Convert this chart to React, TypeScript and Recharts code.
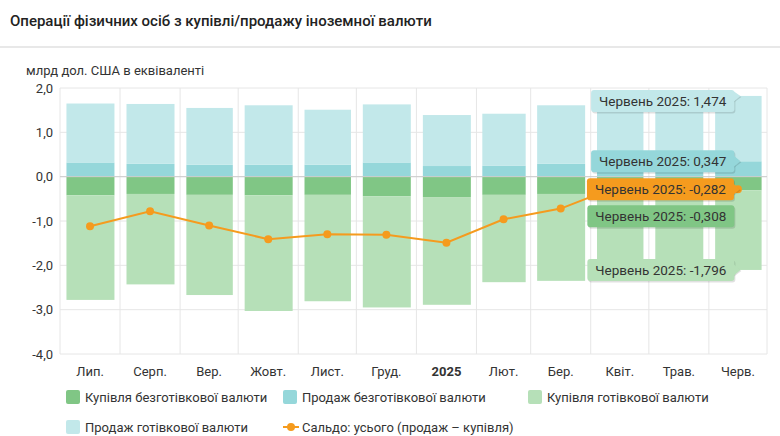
import React from 'react';
import { ComposedChart, Bar, Line, XAxis, YAxis, CartesianGrid, ReferenceLine, LabelList } from 'recharts';

// ---- data ----
const monthKeys = ['2024-07', '2024-08', '2024-09', '2024-10', '2024-11', '2024-12', '2025-01', '2025-02', '2025-03', '2025-04', '2025-05', '2025-06'];
const monthLabels = ['Лип.', 'Серп.', 'Вер.', 'Жовт.', 'Лист.', 'Груд.', '2025', 'Лют.', 'Бер.', 'Квіт.', 'Трав.', 'Черв.'];
const monthFullNames = ['Липень 2024', 'Серпень 2024', 'Вересень 2024', 'Жовтень 2024', 'Листопад 2024', 'Грудень 2024', 'Січень 2025', 'Лютий 2025', 'Березень 2025', 'Квітень 2025', 'Травень 2025', 'Червень 2025'];

const buyNoncash = [-0.42, -0.39, -0.41, -0.42, -0.41, -0.44, -0.46, -0.41, -0.39, -0.35, -0.33, -0.308];
const saleNoncash = [0.32, 0.29, 0.27, 0.27, 0.27, 0.32, 0.24, 0.25, 0.29, 0.3, 0.32, 0.347];
const buyCash = [-2.36, -2.04, -2.26, -2.61, -2.4, -2.51, -2.43, -1.97, -1.96, -1.55, -1.82, -1.796];
const saleCash = [1.33, 1.35, 1.28, 1.34, 1.24, 1.31, 1.15, 1.17, 1.32, 1.4, 1.45, 1.474];
const saldo = [-1.12, -0.78, -1.1, -1.41, -1.3, -1.31, -1.49, -0.96, -0.72, -0.2, -0.38, -0.282];

const yTicks = [-4, -3, -2, -1, 0, 1, 2];

const seriesNames = {
  buyNoncash: 'Купівля безготівкової валюти',
  saleNoncash: 'Продаж безготівкової валюти',
  buyCash: 'Купівля готівкової валюти',
  saleCash: 'Продаж готівкової валюти',
  saldo: 'Сальдо: усього (продаж – купівля)',
};

const colors = {
  buyNoncash: '#80c685',
  saleNoncash: '#95d7da',
  buyCash: '#b6e0b8',
  saleCash: '#c2e8ea',
  saldo: '#f59b1e',
};

// ---- derived (time axis in days from first month start) ----
const DAY = 86400000;
const startDate = Date.UTC(2024, 6, 1);
const monthStartDays: number[] = [];
const monthDays: number[] = [];
monthKeys.forEach((k) => {
  const [y, m] = k.split('-').map(Number);
  monthStartDays.push((Date.UTC(y, m - 1, 1) - startDate) / DAY);
  monthDays.push(new Date(Date.UTC(y, m, 0)).getUTCDate());
});
const endDay = monthStartDays[monthStartDays.length - 1] + monthDays[monthDays.length - 1];
const boundaryDays = [...monthStartDays, endDay];
const midDays = monthStartDays.map((d, i) => d + monthDays[i] / 2);

const data = monthKeys.map((k, i) => ({
  t: midDays[i],
  label: monthLabels[i],
  buyNoncash: buyNoncash[i],
  saleNoncash: saleNoncash[i],
  buyCash: buyCash[i],
  saleCash: saleCash[i],
  saldo: saldo[i],
}));
const labelByT: Record<string, string> = {};
data.forEach((d) => (labelByT[String(d.t)] = d.label));

const FONT = 'Roboto, "Noto Sans", Arial, sans-serif';
const TIP_INDEX = 11;

let measureCtx: CanvasRenderingContext2D | null = null;
function measure(text: string, font: string) {
  if (!measureCtx) measureCtx = document.createElement('canvas').getContext('2d');
  if (!measureCtx) return text.length * 7;
  measureCtx.font = font;
  return measureCtx.measureText(text).width;
}

const fmt3 = (v: number) => v.toFixed(3).replace('.', ',');

function MonthBar(p: any) {
  const { x, y, width, height, fill, index } = p;
  if (x == null || y == null) return null;
  const w = (width * monthDays[index]) / 31;
  const cx = x + width / 2;
  const top = Math.min(y, y + height);
  const h = Math.abs(height);
  return <rect x={cx - w / 2} y={top} width={w} height={h} fill={fill} />;
}

function makeTip(values: number[], color: string, kind: 'bar' | 'point', shift: number) {
  return (props: any) => {
    const { index } = props;
    if (index !== TIP_INDEX) return null;
    const vb = props.viewBox || props;
    const x = Number(vb.x ?? props.x);
    const y = Number(vb.y ?? props.y);
    const w = Number(vb.width ?? 0) || 0;
    const h = Number(vb.height ?? 0) || 0;
    const cx = kind === 'bar' ? x + w / 2 : x;
    const v = values[index];
    let anchorY = y;
    if (kind === 'bar') anchorY = v >= 0 ? Math.min(y, y + h) : Math.max(y, y + h);
    const text = `${monthFullNames[index]}: ${fmt3(v)}`;
    const fontSize = 13.5;
    const tw = measure(text, `${fontSize}px ${FONT}`);
    const boxH = 22;
    const boxRight = cx - 4;
    const boxW = tw + 16;
    const boxLeft = boxRight - boxW;
    const boxTop = anchorY - boxH / 2 + shift;
    const tipX = cx + 2;
    const showPointer = anchorY > boxTop + 4 && anchorY < boxTop + boxH - 4;
    const py1 = Math.max(boxTop + 1, anchorY - 6);
    const py2 = Math.min(boxTop + boxH - 1, anchorY + 6);
    return (
      <g>
        <rect x={boxLeft + 1} y={boxTop + 1.5} width={boxW} height={boxH} rx={3} fill="rgba(0,0,0,0.12)" />
        {showPointer && <polygon points={`${boxRight - 1},${py1 + 1} ${tipX + 1},${anchorY + 1} ${boxRight - 1},${py2 + 1}`} fill="rgba(0,0,0,0.12)" />}
        <rect x={boxLeft} y={boxTop} width={boxW} height={boxH} rx={3} fill={color} />
        {showPointer && <polygon points={`${boxRight - 1},${py1} ${tipX},${anchorY} ${boxRight - 1},${py2}`} fill={color} />}
        <text x={boxLeft + 8} y={boxTop + boxH / 2} dominantBaseline="central" fontSize={fontSize} fontFamily={FONT} fill="#333">
          {text}
        </text>
      </g>
    );
  };
}

function XTick(props: any) {
  const { x, y, payload } = props;
  const label = labelByT[String(payload.value)] ?? '';
  const bold = label === '2025';
  return (
    <text x={x} y={y + 4} textAnchor="middle" dominantBaseline="hanging" fontSize={13} fontFamily={FONT} fill="#333" fontWeight={bold ? 700 : 400}>
      {label}
    </text>
  );
}

const legendItems = [
  { key: 'buyNoncash', type: 'square', left: 66, top: 388 },
  { key: 'saleNoncash', type: 'square', left: 283, top: 388 },
  { key: 'buyCash', type: 'square', left: 528, top: 388 },
  { key: 'saleCash', type: 'square', left: 66, top: 418 },
  { key: 'saldo', type: 'line', left: 283, top: 418 },
];

export default function App() {
  return (
    <div style={{ position: 'absolute', left: 0, top: 0, width: 780, height: 436, background: '#fff', fontFamily: FONT, overflow: 'hidden' }}>
      <div style={{ position: 'absolute', left: 10, top: 12, fontSize: 15, fontWeight: 500, color: '#222', whiteSpace: 'nowrap' }}>
        Операції фізичних осіб з купівлі/продажу іноземної валюти
      </div>
      <div style={{ position: 'absolute', left: 0, top: 46, width: 780, height: 2, background: '#e8e8e8' }} />
      <div style={{ position: 'absolute', left: 26, top: 63, fontSize: 13, color: '#333', whiteSpace: 'nowrap' }}>
        млрд дол. США в еквіваленті
      </div>
      <div style={{ position: 'absolute', left: 0, top: 0 }}>
        <ComposedChart width={780} height={436} data={data} margin={{ top: 88, right: 13, bottom: 52, left: 0 }} stackOffset="sign" barSize={48}>
          <CartesianGrid
            stroke="#e6e6e6"
            verticalCoordinatesGenerator={(args: any) => {
              const xs = args?.xAxis?.scale;
              if (xs && typeof xs === 'function') return boundaryDays.map((d) => xs(d));
              const off = args.offset;
              return boundaryDays.map((d) => off.left + (d / endDay) * off.width);
            }}
          />
          <XAxis
            dataKey="t"
            type="number"
            domain={[0, endDay]}
            ticks={midDays}
            interval={0}
            axisLine={false}
            tickLine={false}
            tick={<XTick />}
            height={30}
          />
          <YAxis
            domain={[-4, 2]}
            ticks={yTicks}
            width={60}
            axisLine={false}
            tickLine={false}
            tickSize={0}
            tickMargin={7}
            tick={{ fontSize: 13, fill: '#333', fontFamily: FONT }}
            tickFormatter={(v: number) => v.toFixed(1).replace('.', ',')}
          />
          <ReferenceLine y={0} stroke="#cccccc" />
          <Bar dataKey="buyNoncash" stackId="a" fill={colors.buyNoncash} isAnimationActive={false} shape={<MonthBar />}>
            <LabelList dataKey="buyNoncash" content={makeTip(buyNoncash, colors.buyNoncash, 'bar', 26)} />
          </Bar>
          <Bar dataKey="saleNoncash" stackId="a" fill={colors.saleNoncash} isAnimationActive={false} shape={<MonthBar />}>
            <LabelList dataKey="saleNoncash" content={makeTip(saleNoncash, colors.saleNoncash, 'bar', 0)} />
          </Bar>
          <Bar dataKey="buyCash" stackId="a" fill={colors.buyCash} isAnimationActive={false} shape={<MonthBar />}>
            <LabelList dataKey="buyCash" content={makeTip(buyCash, colors.buyCash, 'bar', 0)} />
          </Bar>
          <Bar dataKey="saleCash" stackId="a" fill={colors.saleCash} isAnimationActive={false} shape={<MonthBar />}>
            <LabelList dataKey="saleCash" content={makeTip(saleCash, colors.saleCash, 'bar', 5)} />
          </Bar>
          <Line
            dataKey="saldo"
            stroke={colors.saldo}
            strokeWidth={2}
            dot={{ r: 4, fill: colors.saldo, stroke: 'none' }}
            activeDot={false}
            isAnimationActive={false}
          >
            <LabelList dataKey="saldo" content={makeTip(saldo, colors.saldo, 'point', 0)} />
          </Line>
        </ComposedChart>
      </div>
      {legendItems.map((it) => (
        <div key={it.key} style={{ position: 'absolute', left: it.left, top: it.top, height: 18, display: 'flex', alignItems: 'center', fontSize: 13, color: '#333', whiteSpace: 'nowrap' }}>
          {it.type === 'square' ? (
            <span style={{ display: 'inline-block', width: 14, height: 14, borderRadius: 2, background: (colors as any)[it.key], marginRight: 5 }} />
          ) : (
            <svg width={16} height={14} style={{ marginRight: 3 }}>
              <line x1={0} y1={7} x2={16} y2={7} stroke={colors.saldo} strokeWidth={2} />
              <circle cx={8} cy={7} r={4} fill={colors.saldo} />
            </svg>
          )}
          <span>{(seriesNames as any)[it.key]}</span>
        </div>
      ))}
    </div>
  );
}
